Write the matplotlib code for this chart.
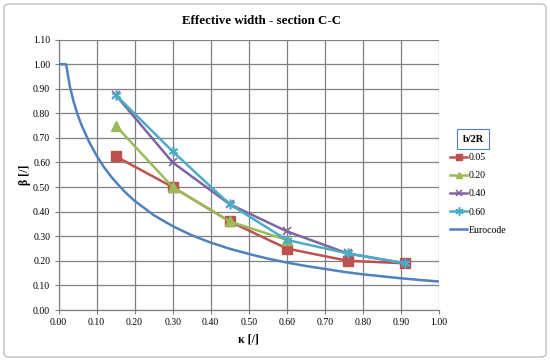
import matplotlib
matplotlib.use("Agg")
import matplotlib.pyplot as plt
from matplotlib.patches import FancyBboxPatch
from matplotlib.lines import Line2D

plt.rcParams['font.family'] = ['Liberation Serif', 'DejaVu Serif']

# Data
kappa = [0.15, 0.30, 0.45, 0.60, 0.76, 0.91]
beta_005 = [0.625, 0.50, 0.36, 0.25, 0.20, 0.19]
kappa_020 = [0.15, 0.30, 0.45, 0.60]
beta_020 = [0.75, 0.50, 0.36, 0.285]
beta_040 = [0.875, 0.60, 0.43, 0.32, 0.23, 0.19]
beta_060 = [0.875, 0.645, 0.43, 0.285, 0.23, 0.19]

euro_k = [0.0, 0.02, 0.03, 0.04, 0.05, 0.06, 0.08, 0.10, 0.12, 0.14, 0.16, 0.18,
          0.20, 0.25, 0.30, 0.35, 0.40, 0.45, 0.50, 0.55, 0.60, 0.65, 0.70,
          0.75, 0.80, 0.85, 0.90, 0.95, 1.00]
euro_b = [1.0, 0.999, 0.908, 0.846, 0.796, 0.754, 0.685, 0.628, 0.580, 0.539,
          0.504, 0.472, 0.444, 0.386, 0.341, 0.304, 0.274, 0.249, 0.228, 0.209,
          0.193, 0.179, 0.167, 0.155, 0.145, 0.137, 0.129, 0.122, 0.116]

labels = ['0.05', '0.20', '0.40', '0.60', 'Eurocode']
colors = ['#C0504D', '#9BBB59', '#8064A2', '#4BACC6', '#4F81BD']

W, H = 550, 361
fig = plt.figure(figsize=(W / 100, H / 100), dpi=100)
ax = fig.add_axes([58.5 / W, 1 - 310 / H, (439 - 58.5) / W, (310 - 39.5) / H])

lw = 1.8
ax.plot(euro_k, euro_b, color=colors[4], lw=lw, zorder=3)
ax.plot(kappa, beta_005, color=colors[0], lw=lw, marker='s', ms=6.5, zorder=4)
ax.plot(kappa_020, beta_020, color=colors[1], lw=lw, marker='^', ms=6.5, zorder=4)
ax.plot(kappa, beta_040, color=colors[2], lw=lw, marker='x', ms=6, mew=1.2, zorder=4)
ax.plot(kappa, beta_060, color=colors[3], lw=lw, marker=(6, 2, 0), ms=7, mew=1.2, zorder=4)

ax.set_xlim(0, 1.0)
ax.set_ylim(0, 1.10)
xt = [i / 10 for i in range(11)]
yt = [i / 10 for i in range(12)]
ax.set_xticks(xt)
ax.set_yticks(yt)
ax.set_xticklabels([f'{v:.2f}' for v in xt])
ax.set_yticklabels([f'{v:.2f}' for v in yt])
ax.tick_params(labelsize=7, length=3, width=0.8, color='#808080', pad=3)
ax.grid(True, color='#808080', lw=0.9)
ax.set_axisbelow(True)
for s in ['top', 'right']:
    ax.spines[s].set_visible(False)
for s in ['left', 'bottom']:
    ax.spines[s].set_color('#808080')
    ax.spines[s].set_linewidth(0.9)

fig.text(262 / W, 1 - 20.5 / H, 'Effective width - section C-C', ha='center', va='center',
         fontsize=9.3, fontweight='bold')
fig.text(248 / W, 1 - 340 / H, 'κ [/]', ha='center', va='center', fontsize=8.5, fontweight='bold')
fig.text(25 / W, 1 - 175 / H, 'β [/]', ha='center', va='center', fontsize=8.5,
         fontweight='bold', rotation=90)

# legend title box
fig.text(473 / W, 1 - 139 / H, 'b/2R', ha='center', va='center', fontsize=7.5, fontweight='bold',
         bbox=dict(boxstyle='square,pad=0.55', fc='white', ec='#4F81BD', lw=0.8))

handles = [
    Line2D([], [], color=colors[0], lw=lw, marker='s', ms=5),
    Line2D([], [], color=colors[1], lw=lw, marker='^', ms=5),
    Line2D([], [], color=colors[2], lw=lw, marker='x', ms=5, mew=1.1),
    Line2D([], [], color=colors[3], lw=lw, marker=(6, 2, 0), ms=6, mew=1.1),
    Line2D([], [], color=colors[4], lw=lw),
]
fig.legend(handles, labels, loc='upper left', bbox_to_anchor=(448 / W, 1 - 151 / H),
           frameon=False, fontsize=7, handlelength=1.8, handletextpad=0.15,
           labelspacing=0.95, borderaxespad=0, borderpad=0.2)

border = FancyBboxPatch((4 / W, 4 / H), (W - 8) / W, (H - 8) / H,
                        boxstyle='round,pad=0,rounding_size=0.01',
                        transform=fig.transFigure, fc='none', ec='#bfbfbf', lw=1.0)
fig.patches.append(border)

fig.savefig('out.png', dpi=100)
